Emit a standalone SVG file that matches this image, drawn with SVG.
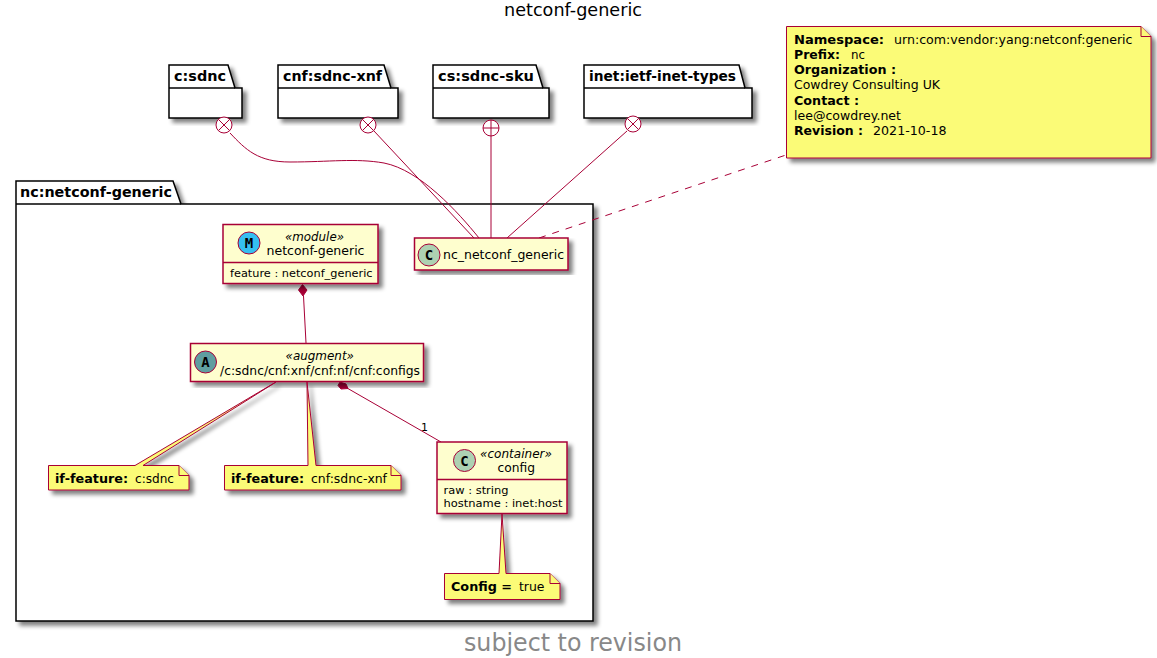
<svg xmlns="http://www.w3.org/2000/svg" width="1157" height="658" viewBox="0 0 1157 658">
<style>
text{font-family:"DejaVu Sans",sans-serif;fill:#000}
.pkg{fill:#fff;stroke:#000;stroke-width:1.5}
.pl{font-size:14px;font-weight:bold}
.cls{fill:#FEFECE;stroke:#A80036;stroke-width:1.5}
.note{fill:#FBFB77;stroke:#A80036;stroke-width:1}
.sh{filter:url(#s)}
.n{font-size:13px}
.st{font-size:13px;font-style:italic}
.a{font-size:11px}
.b{font-weight:bold}
.ln{fill:none;stroke:#A80036;stroke-width:1}
.ic{stroke:#A80036;stroke-width:1}
.gl{font-size:14px;font-weight:bold;font-family:"DejaVu Sans Mono",monospace;text-anchor:middle}
.m{text-anchor:middle}
</style>
<defs>
<filter id="s" x="-10%" y="-10%" width="125%" height="125%"><feGaussianBlur in="SourceAlpha" stdDeviation="2"/><feOffset dx="4" dy="4"/><feComponentTransfer><feFuncA type="linear" slope="0.5"/></feComponentTransfer><feMerge><feMergeNode/><feMergeNode in="SourceGraphic"/></feMerge></filter>
</defs>
<text x="573" y="16" class="m" font-size="18" textLength="138" lengthAdjust="spacingAndGlyphs">netconf-generic</text>

<g id="pkg-nc"><path class="pkg sh" d="M16 181H173L181 204H593V621H16Z"/><path class="pkg" d="M16 204H181"/><text x="20" y="197" class="pl" textLength="152" lengthAdjust="spacingAndGlyphs">nc:netconf-generic</text></g>
<g id="pkg-c"><path class="pkg sh" d="M169 65H228L235 88H242V118H169Z"/><path class="pkg" d="M169 88H235"/><text x="174" y="81" class="pl" textLength="52" lengthAdjust="spacingAndGlyphs">c:sdnc</text></g>
<g id="pkg-cnf"><path class="pkg sh" d="M278 65H384L391 88H398V118H278Z"/><path class="pkg" d="M278 88H391"/><text x="283" y="81" class="pl" textLength="99" lengthAdjust="spacingAndGlyphs">cnf:sdnc-xnf</text></g>
<g id="pkg-cs"><path class="pkg sh" d="M433 65H536L543 88H549V118H433Z"/><path class="pkg" d="M433 88H543"/><text x="438" y="81" class="pl" textLength="96" lengthAdjust="spacingAndGlyphs">cs:sdnc-sku</text></g>
<g id="pkg-inet"><path class="pkg sh" d="M584 65H739L745 88H752V118H584Z"/><path class="pkg" d="M584 88H745"/><text x="589" y="81" class="pl" textLength="147" lengthAdjust="spacingAndGlyphs">inet:ietf-inet-types</text></g>

<g id="connectors">
<path class="ln" d="M230 133C246 150 258 162 290 162C330 162 355 158 384 163C420 170 458 212 479 238"/>
<path class="ln" d="M374 131L474 238"/>
<path class="ln" d="M491 136V238"/>
<path class="ln" d="M627 131L507 238"/>
<path class="ln" stroke-dasharray="7 7" d="M539 238L786 155"/>
<path class="ln" d="M303.500 296L306 343"/>
<path class="ln" d="M347 388L441 442"/>
<circle class="ic" cx="224" cy="125" r="8" fill="#fff"/><path class="ln" d="M218.500 119.500L229.500 130.500M229.500 119.500L218.500 130.500"/>
<circle class="ic" cx="368" cy="125" r="8" fill="#fff"/><path class="ln" d="M362.500 119.500L373.500 130.500M373.500 119.500L362.500 130.500"/>
<circle class="ic" cx="491" cy="128" r="8" fill="#fff"/><path class="ln" d="M483 128H499M491 120V136"/>
<circle class="ic" cx="633" cy="124" r="8" fill="#fff"/><path class="ln" d="M627.500 118.500L638.500 129.500M638.500 118.500L627.500 129.500"/>
<path fill="#A80036" stroke="#A80036" d="M302.500 284.500L298.500 290L303 296L307 290Z"/>
<path fill="#A80036" stroke="#A80036" d="M340 382L338 385.500L341 389L348 388.500L346 384Z"/>
<text x="421" y="431" class="a" font-size="11">1</text>
</g>

<g id="nc_netconf_generic"><rect class="cls sh" x="414.500" y="238" width="153.500" height="32"/><circle class="ic" cx="429" cy="255" r="11" fill="#ADD1B2"/><text x="429" y="260" class="gl">C</text><text x="443" y="259" class="n" textLength="121" lengthAdjust="spacingAndGlyphs">nc_netconf_generic</text></g>

<g id="module"><rect class="cls sh" x="223" y="224.500" width="155" height="59"/><path class="cls" d="M223 262.500H378"/><circle class="ic" cx="249" cy="243" r="11" fill="#35BFF0"/><text x="249" y="248" class="gl">M</text><text x="285" y="241" class="st" textLength="59" lengthAdjust="spacingAndGlyphs">«module»</text><text x="266.500" y="255" class="n" textLength="98" lengthAdjust="spacingAndGlyphs">netconf-generic</text><text x="230" y="277" class="a" textLength="142.500" lengthAdjust="spacingAndGlyphs">feature : netconf_generic</text></g>

<g id="augment"><rect class="cls sh" x="190.500" y="343.500" width="233" height="38"/><circle class="ic" cx="205.500" cy="362" r="11" fill="#5F9EA0"/><text x="205.500" y="367" class="gl">A</text><text x="285.500" y="360" class="st" textLength="68.500" lengthAdjust="spacingAndGlyphs">«augment»</text><text x="220" y="375" class="n" textLength="200" lengthAdjust="spacingAndGlyphs">/c:sdnc/cnf:xnf/cnf:nf/cnf:configs</text></g>

<g id="config"><rect class="cls sh" x="437" y="442" width="130" height="71.500"/><path class="cls" d="M437 479.500H567"/><circle class="ic" cx="464.500" cy="460.500" r="11" fill="#ADD1B2"/><text x="464.500" y="465.500" class="gl">C</text><text x="480" y="458" class="st" textLength="72" lengthAdjust="spacingAndGlyphs">«container»</text><text x="497.500" y="472" class="n" textLength="37.500" lengthAdjust="spacingAndGlyphs">config</text><text x="443.500" y="494" class="a" textLength="65" lengthAdjust="spacingAndGlyphs">raw : string</text><text x="443.500" y="507" class="a" textLength="119" lengthAdjust="spacingAndGlyphs">hostname : inet:host</text></g>

<g id="note-cdnc"><path class="note sh" d="M48.500 465.500H135L276 382L143 465.500H179L189 475.500V490H48.500Z"/><path class="note" d="M179 465.500V475.500H189"/><text x="55" y="483" class="n b" textLength="73" lengthAdjust="spacingAndGlyphs">if-feature:</text><text x="135" y="483" class="n" textLength="39" lengthAdjust="spacingAndGlyphs">c:sdnc</text></g>

<g id="note-cnf"><path class="note sh" d="M224.500 465.500H308L307 382L316 465.500H391L401 475.500V490H224.500Z"/><path class="note" d="M391 465.500V475.500H401"/><text x="231" y="483" class="n b" textLength="73" lengthAdjust="spacingAndGlyphs">if-feature:</text><text x="311" y="483" class="n" textLength="76" lengthAdjust="spacingAndGlyphs">cnf:sdnc-xnf</text></g>

<g id="note-config"><path class="note sh" d="M444.500 573.500H499L502 514L506 573.500H550L560 583.500V599.500H444.500Z"/><path class="note" d="M550 573.500V583.500H560"/><text x="451" y="591" class="n b" textLength="61" lengthAdjust="spacingAndGlyphs">Config =</text><text x="519" y="591" class="n" textLength="25.500" lengthAdjust="spacingAndGlyphs">true</text></g>

<g id="note-module"><path class="note sh" d="M786.500 26.500H1141L1151 36.500V158H786.500Z"/><path class="note" d="M1141 26.500V36.500H1151"/>
<text x="794" y="44" class="n b" textLength="90" lengthAdjust="spacingAndGlyphs">Namespace:</text><text x="894" y="44" class="n" textLength="238.500" lengthAdjust="spacingAndGlyphs">urn:com:vendor:yang:netconf:generic</text>
<text x="794" y="59" class="n b" textLength="46" lengthAdjust="spacingAndGlyphs">Prefix:</text><text x="851" y="59" class="n" textLength="14" lengthAdjust="spacingAndGlyphs">nc</text>
<text x="794" y="74" class="n b" textLength="102" lengthAdjust="spacingAndGlyphs">Organization :</text>
<text x="794" y="89" class="n" textLength="146" lengthAdjust="spacingAndGlyphs">Cowdrey Consulting UK</text>
<text x="794" y="105" class="n b" textLength="65" lengthAdjust="spacingAndGlyphs">Contact :</text>
<text x="794" y="120" class="n" textLength="107" lengthAdjust="spacingAndGlyphs">lee@cowdrey.net</text>
<text x="794" y="135" class="n b" textLength="69" lengthAdjust="spacingAndGlyphs">Revision :</text><text x="873" y="135" class="n" textLength="73.500" lengthAdjust="spacingAndGlyphs">2021-10-18</text></g>

<text x="573" y="651" class="m" font-size="24" style="fill:#888888" textLength="218" lengthAdjust="spacingAndGlyphs">subject to revision</text>
</svg>
